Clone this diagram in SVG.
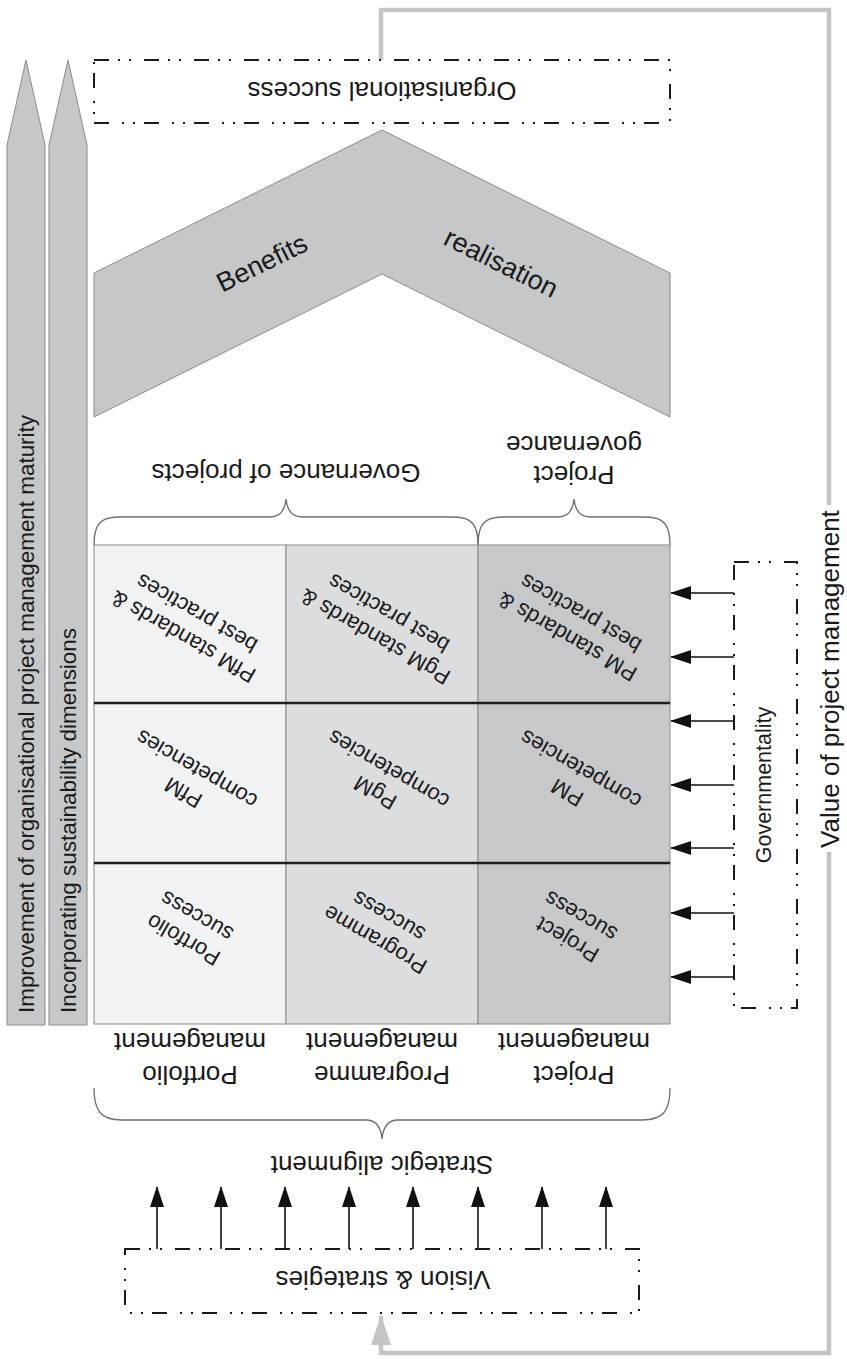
<svg xmlns="http://www.w3.org/2000/svg" width="847" height="1359" viewBox="0 0 847 1359">
<style>
  text { font-family: "Liberation Sans", Arial, sans-serif; fill: #1a1a1a; text-anchor: middle; dominant-baseline: central; }
  .f26 { font-size: 26px; }
  .f22 { font-size: 22px; }
  .f27 { font-size: 27px; }
  .f21 { font-size: 21.5px; }
  .dbox { fill: none; stroke: #1a1a1a; stroke-width: 2; stroke-dasharray: 15 9 2 9 2 13; }
  .brace { fill: none; stroke: #6e6e6e; stroke-width: 1.3; }
  .bigarrow { fill: #c6c7c9; stroke: #8a8a8a; stroke-width: 1; }
  .cell { stroke: #8a8a8a; stroke-width: 1; }
  .arr { stroke: #111; stroke-width: 1.6; fill: none; marker-end: url(#ah); }
  .gray { stroke: #c3c4c6; stroke-width: 4.5; fill: none; }
</style>
<defs>
  <marker id="ah" viewBox="0 0 21 14" refX="20" refY="7" markerWidth="21" markerHeight="14" markerUnits="userSpaceOnUse" orient="auto">
    <path d="M0,0 L21,7 L0,14 z" fill="#111"/>
  </marker>
  <marker id="gah" viewBox="0 0 30 20" refX="29" refY="10" markerWidth="30" markerHeight="20" markerUnits="userSpaceOnUse" orient="auto">
    <path d="M0,0 L30,10 L0,20 z" fill="#c3c4c6"/>
  </marker>
</defs>
<rect width="847" height="1359" fill="#ffffff"/>

<!-- left progress arrows -->
<g id="arrow-maturity">
  <polygon class="bigarrow" points="7,1025 7,145 26,60 45,145 45,1025"/>
  <text class="f22" x="26" y="1013" transform="rotate(-90 26 1013)" style="text-anchor:start" textLength="598" lengthAdjust="spacingAndGlyphs">Improvement of organisational project management maturity</text>
</g>
<g id="arrow-sustainability">
  <polygon class="bigarrow" points="49,1025 49,145 68,60 87,145 87,1025"/>
  <text class="f22" x="68" y="1013" transform="rotate(-90 68 1013)" style="text-anchor:start" textLength="385" lengthAdjust="spacingAndGlyphs">Incorporating sustainability dimensions</text>
</g>

<!-- connectors -->
<g id="connectors">
  <path class="gray" d="M381,60 V10 H829 V505"/>
  <path class="gray" d="M829,852 V1353 H381 V1316" style="marker-end:url(#gah)"/>
  <line class="arr" x1="734" y1="593" x2="671" y2="593"/>
  <line class="arr" x1="734" y1="657" x2="671" y2="657"/>
  <line class="arr" x1="734" y1="721" x2="671" y2="721"/>
  <line class="arr" x1="734" y1="785" x2="671" y2="785"/>
  <line class="arr" x1="734" y1="848" x2="671" y2="848"/>
  <line class="arr" x1="734" y1="913" x2="671" y2="913"/>
  <line class="arr" x1="734" y1="977" x2="671" y2="977"/>
  <line class="arr" x1="157" y1="1249" x2="157" y2="1187"/>
  <line class="arr" x1="221" y1="1249" x2="221" y2="1187"/>
  <line class="arr" x1="285" y1="1249" x2="285" y2="1187"/>
  <line class="arr" x1="349" y1="1249" x2="349" y2="1187"/>
  <line class="arr" x1="413" y1="1249" x2="413" y2="1187"/>
  <line class="arr" x1="478" y1="1249" x2="478" y2="1187"/>
  <line class="arr" x1="542" y1="1249" x2="542" y2="1187"/>
  <line class="arr" x1="606" y1="1249" x2="606" y2="1187"/>
</g>

<g id="value-label">
  <text class="f26" x="830" y="679" transform="rotate(-90 830 679)">Value of project management</text>
</g>

<g id="org-success">
  <rect class="dbox" x="94" y="60" width="576" height="63" fill="#fff"/>
  <text class="f26" x="382" y="91" transform="rotate(180 382 91)">Organisational success</text>
</g>

<g id="benefits-realisation">
  <polygon points="94,273 382,130 670,273 670,417 382,274 94,417" fill="#c6c7c9" stroke="#8a8a8a" stroke-width="1"/>
  <text class="f27" transform="translate(262,263) rotate(-26.4)">Benefits</text>
  <text class="f27" transform="translate(501,263) rotate(26.4)">realisation</text>
</g>

<g id="governance-labels">
  <text class="f26" x="286" y="473" transform="rotate(180 286 473)">Governance of projects</text>
  <text class="f26" x="574" y="475" transform="rotate(180 574 475)">Project</text>
  <text class="f26" x="574" y="445" transform="rotate(180 574 445)">governance</text>
  <path class="brace" d="M94,545 C94,525 100,517 118,517 L270,517 C280,517 285,510 286,499 C287,510 292,517 302,517 L454,517 C472,517 478,525 478,545"/>
  <path class="brace" d="M478,545 C478,525 484,517 502,517 L558,517 C568,517 573,510 574,499 C575,510 580,517 590,517 L646,517 C664,517 670,525 670,545"/>
</g>

<!-- grid -->
<g id="grid">
  <g id="cell-pfm-standards">
    <rect class="cell" x="94" y="545" width="192" height="158" fill="#f1f2f4"/>
    <g transform="translate(190,625) rotate(210)"><text class="f22" y="-13.5">PfM standards &amp;</text><text class="f22" y="13.5">best practices</text></g>
  </g>
  <g id="cell-pgm-standards">
    <rect class="cell" x="286" y="545" width="192" height="158" fill="#dcdddf"/>
    <g transform="translate(382,625) rotate(210)"><text class="f22" y="-13.5">PgM standards &amp;</text><text class="f22" y="13.5">best practices</text></g>
  </g>
  <g id="cell-pm-standards">
    <rect class="cell" x="478" y="545" width="192" height="158" fill="#c7c8ca"/>
    <g transform="translate(574,625) rotate(210)"><text class="f22" y="-13.5">PM standards &amp;</text><text class="f22" y="13.5">best practices</text></g>
  </g>
  <g id="cell-pfm-competencies">
    <rect class="cell" x="94" y="703" width="192" height="160" fill="#f1f2f4"/>
    <g transform="translate(190,781) rotate(210)"><text class="f22" y="-13.5">PfM</text><text class="f22" y="13.5">competencies</text></g>
  </g>
  <g id="cell-pgm-competencies">
    <rect class="cell" x="286" y="703" width="192" height="160" fill="#dcdddf"/>
    <g transform="translate(382,781) rotate(210)"><text class="f22" y="-13.5">PgM</text><text class="f22" y="13.5">competencies</text></g>
  </g>
  <g id="cell-pm-competencies">
    <rect class="cell" x="478" y="703" width="192" height="160" fill="#c7c8ca"/>
    <g transform="translate(574,781) rotate(210)"><text class="f22" y="-13.5">PM</text><text class="f22" y="13.5">competencies</text></g>
  </g>
  <g id="cell-portfolio-success">
    <rect class="cell" x="94" y="863" width="192" height="161" fill="#f1f2f4"/>
    <g transform="translate(190,928) rotate(210)"><text class="f22" y="-13.5">Portfolio</text><text class="f22" y="13.5">success</text></g>
  </g>
  <g id="cell-programme-success">
    <rect class="cell" x="286" y="863" width="192" height="161" fill="#dcdddf"/>
    <g transform="translate(382,928) rotate(210)"><text class="f22" y="-13.5">Programme</text><text class="f22" y="13.5">success</text></g>
  </g>
  <g id="cell-project-success">
    <rect class="cell" x="478" y="863" width="192" height="161" fill="#c7c8ca"/>
    <g transform="translate(574,928) rotate(210)"><text class="f22" y="-13.5">Project</text><text class="f22" y="13.5">success</text></g>
  </g>
  <line x1="94" y1="703" x2="670" y2="703" stroke="#1e1e1e" stroke-width="2.5"/>
  <line x1="94" y1="863" x2="670" y2="863" stroke="#1e1e1e" stroke-width="2.5"/>
</g>

<g id="management-labels">
  <text class="f26" x="190" y="1042" transform="rotate(180 190 1042)">management</text>
  <text class="f26" x="190" y="1075" transform="rotate(180 190 1075)">Portfolio</text>
  <text class="f26" x="382" y="1042" transform="rotate(180 382 1042)">management</text>
  <text class="f26" x="382" y="1075" transform="rotate(180 382 1075)">Programme</text>
  <text class="f26" x="574" y="1042" transform="rotate(180 574 1042)">management</text>
  <text class="f26" x="574" y="1075" transform="rotate(180 574 1075)">Project</text>
  <path class="brace" d="M94,1088 C94,1110 100,1120 122,1120 L366,1120 C376,1120 381,1128 382,1139 C383,1128 388,1120 398,1120 L642,1120 C664,1120 670,1110 670,1088"/>
  <text class="f26" x="382" y="1165" transform="rotate(180 382 1165)">Strategic alignment</text>
</g>

<g id="governmentality">
  <rect class="dbox" x="734" y="562" width="63" height="446"/>
  <text class="f21" x="764" y="785" transform="rotate(-90 764 785)">Governmentality</text>
</g>

<g id="vision">
  <rect class="dbox" x="125" y="1249" width="514" height="64"/>
  <text class="f26" x="383" y="1280" transform="rotate(180 383 1280)">Vision &amp; strategies</text>
</g>
</svg>
